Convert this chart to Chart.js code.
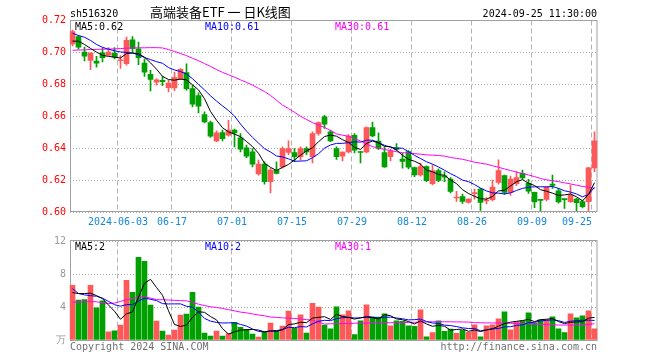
<!DOCTYPE html>
<html><head><meta charset="utf-8">
<script src="https://cdn.jsdelivr.net/npm/chart.js@4/dist/chart.umd.min.js"></script>
<style>
html,body{margin:0;padding:0;background:#fff;overflow:hidden}
#wrap{position:relative;width:660px;height:360px;background:#fff}
canvas{position:absolute;left:0}
#c1{top:0}
#c2{top:232px}
</style></head><body>
<div id="wrap">
<canvas id="c1" width="660" height="232" style="width:660px;height:232px"></canvas>
<canvas id="c2" width="660" height="128" style="width:660px;height:128px"></canvas>
</div>
<script>
const dates = ['2024-05-22','2024-05-23','2024-05-24','2024-05-27','2024-05-28','2024-05-29','2024-05-30','2024-05-31',
'2024-06-03','2024-06-04','2024-06-05','2024-06-06','2024-06-07','2024-06-11','2024-06-12','2024-06-13','2024-06-14',
'2024-06-17','2024-06-18','2024-06-19','2024-06-20','2024-06-21','2024-06-24','2024-06-25','2024-06-26','2024-06-27','2024-06-28',
'2024-07-01','2024-07-02','2024-07-03','2024-07-04','2024-07-05','2024-07-08','2024-07-09','2024-07-10','2024-07-11','2024-07-12',
'2024-07-15','2024-07-16','2024-07-17','2024-07-18','2024-07-19','2024-07-22','2024-07-23','2024-07-24','2024-07-25','2024-07-26',
'2024-07-29','2024-07-30','2024-07-31','2024-08-01','2024-08-02','2024-08-05','2024-08-06','2024-08-07','2024-08-08','2024-08-09',
'2024-08-12','2024-08-13','2024-08-14','2024-08-15','2024-08-16','2024-08-19','2024-08-20','2024-08-21','2024-08-22','2024-08-23',
'2024-08-26','2024-08-27','2024-08-28','2024-08-29','2024-08-30','2024-09-02','2024-09-03','2024-09-04','2024-09-05','2024-09-06',
'2024-09-09','2024-09-10','2024-09-11','2024-09-12','2024-09-13','2024-09-18','2024-09-19','2024-09-20','2024-09-23','2024-09-24','2024-09-25'];

const tickDates = ['2024-06-03','2024-06-17','2024-07-01','2024-07-15','2024-07-29','2024-08-12','2024-08-26','2024-09-09','2024-09-25'];
const tickTexts = ['2024-06-03','06-17','07-01','07-15','07-29','08-12','08-26','09-09','09-25'];

const open = [.7054,.7100,.7002,.6950,.6946,.6998,.6983,.6994,.6948,.6929,
.7079,.7023,.6933,.6863,.6813,.6825,.6779,.6777,.6835,.6873,
.6773,.6729,.6610,.6560,.6446,.6498,.6481,.6513,.6465,.6402,
.6377,.6238,.6300,.6190,.6263,.6283,.6373,.6373,.6346,.6398,
.6346,.6492,.6596,.6502,.6398,.6350,.6377,.6481,.6377,.6377,
.6529,.6444,.6373,.6346,.6402,.6331,.6379,.6279,.6233,.6285,
.6177,.6260,.6227,.6206,.6088,.6097,.6060,.6115,.6144,.6069,
.6077,.6185,.6229,.6123,.6177,.6242,.6179,.6123,.6077,.6079,
.6175,.6133,.6081,.6065,.6081,.6065,.6065,.6277];
const high = [.7140,.7106,.7033,.6998,.6975,.7029,.7030,.7030,.6980,.7096,
.7100,.7065,.6960,.6888,.6835,.6850,.6825,.6877,.6898,.6929,
.6794,.6746,.6627,.6570,.6508,.6513,.6575,.6520,.6492,.6419,
.6398,.6325,.6315,.6273,.6315,.6408,.6446,.6398,.6408,.6408,
.6502,.6565,.6606,.6513,.6408,.6377,.6485,.6492,.6380,.6533,
.6563,.6496,.6408,.6392,.6429,.6367,.6385,.6282,.6306,.6290,
.6296,.6270,.6252,.6215,.6129,.6113,.6083,.6144,.6148,.6090,
.6200,.6327,.6231,.6225,.6254,.6263,.6204,.6125,.6079,.6158,
.6231,.6148,.6083,.6169,.6085,.6075,.6280,.6502];
const low = [.7040,.7020,.6946,.6892,.6908,.6940,.6980,.6960,.6900,.6920,
.7000,.6923,.6850,.6758,.6794,.6792,.6752,.6760,.6830,.6763,
.6658,.6621,.6558,.6467,.6440,.6446,.6475,.6408,.6377,.6340,
.6283,.6231,.6175,.6120,.6238,.6275,.6360,.6315,.6325,.6360,
.6308,.6481,.6523,.6440,.6330,.6320,.6370,.6370,.6308,.6370,
.6470,.6390,.6280,.6320,.6385,.6275,.6270,.6222,.6225,.6190,
.6170,.6190,.6190,.6120,.6066,.6054,.6055,.6081,.6010,.6050,
.6070,.6175,.6110,.6104,.6165,.6205,.6117,.6027,.6008,.6070,
.6148,.6055,.6023,.6060,.6008,.6025,.6008,.6252];
const close = [.7131,.7033,.6977,.6996,.6933,.6967,.7002,.6971,.6952,.7075,
.7023,.6967,.6877,.6831,.6829,.6817,.6808,.6842,.6894,.6773,
.6675,.6663,.6565,.6475,.6496,.6460,.6513,.6496,.6394,.6350,
.6300,.6300,.6190,.6263,.6242,.6398,.6398,.6346,.6398,.6377,
.6492,.6560,.6550,.6446,.6346,.6375,.6475,.6388,.6373,.6529,
.6477,.6398,.6283,.6383,.6392,.6317,.6281,.6233,.6285,.6196,
.6260,.6198,.6219,.6129,.6094,.6066,.6081,.6121,.6060,.6075,
.6156,.6260,.6123,.6206,.6216,.6213,.6131,.6063,.6073,.6154,
.6167,.6063,.6078,.6106,.6058,.6033,.6277,.6446];

const ma5 = [.7071,.7070,.7050,.7025,.7002,.6982,.6975,.6970,.6965,.6993,
.6996,.6992,.6970,.6935,.6895,.6850,.6830,.6826,.6833,.6828,
.6797,.6765,.6710,.6630,.6575,.6528,.6502,.6488,.6472,.6442,
.6410,.6368,.6305,.6280,.6260,.6280,.6298,.6326,.6356,.6383,
.6403,.6440,.6473,.6482,.6475,.6453,.6436,.6405,.6392,.6430,
.6445,.6433,.6412,.6410,.6388,.6355,.6330,.6318,.6300,.6262,
.6252,.6235,.6230,.6200,.6178,.6140,.6116,.6098,.6084,.6080,
.6098,.6132,.6136,.6163,.6190,.6203,.6180,.6166,.6140,.6130,
.6118,.6104,.6107,.6113,.6095,.6070,.6110,.6184];
const ma10 = [.7120,.7106,.7095,.7075,.7050,.7032,.7020,.7010,.7003,.7000,
.6996,.6985,.6968,.6955,.6942,.6932,.6905,.6890,.6880,.6865,
.6835,.6800,.6765,.6728,.6695,.6665,.6636,.6601,.6551,.6507,
.6468,.6432,.6397,.6376,.6351,.6345,.6333,.6318,.6319,.6321,
.6340,.6365,.6400,.6420,.6430,.6430,.6435,.6440,.6438,.6450,
.6450,.6435,.6418,.6405,.6400,.6400,.6378,.6355,.6335,.6315,
.6300,.6282,.6262,.6240,.6222,.6200,.6190,.6172,.6150,.6132,
.6120,.6118,.6113,.6120,.6135,.6148,.6155,.6158,.6158,.6158,
.6160,.6148,.6133,.6125,.6113,.6095,.6110,.6155];
const ma30 = [.7013,.7015,.7016,.7018,.7019,.7020,.7021,.7022,.7024,.7027,
.7028,.7029,.7029,.7030,.7030,.7028,.7018,.7006,.6993,.6980,
.6963,.6948,.6930,.6912,.6893,.6875,.6860,.6845,.6828,.6812,
.6795,.6775,.6755,.6730,.6700,.6670,.6648,.6625,.6600,.6580,
.6560,.6545,.6530,.6510,.6490,.6481,.6475,.6460,.6445,.6425,
.6410,.6400,.6392,.6385,.6378,.6372,.6369,.6366,.6362,.6358,
.6356,.6354,.6350,.6342,.6336,.6330,.6322,.6312,.6306,.6300,
.6290,.6280,.6270,.6260,.6250,.6242,.6232,.6222,.6210,.6202,
.6196,.6190,.6183,.6176,.6168,.6160,.6155,.6148];

const volume = [6.67,4.85,4.93,6.67,3.92,4.77,1.01,1.13,1.82,7.27,
5.82,10.06,9.58,4.24,2.30,1.09,0.61,1.21,3.03,3.15,
5.82,4.00,0.85,0.48,1.09,0.48,0.77,2.14,1.54,1.29,
0.73,0.36,1.01,2.06,1.13,1.70,3.52,1.41,3.07,0.85,
4.48,4.00,1.82,1.37,4.04,3.07,3.56,0.65,2.34,4.28,
2.79,2.79,3.19,1.74,2.34,2.26,1.74,1.66,3.68,0.40,
0.89,2.34,1.05,1.33,0.81,1.17,0.93,1.86,0.40,1.74,
1.86,2.59,3.43,1.25,2.22,2.34,3.31,2.06,2.46,2.46,
2.83,1.37,0.89,3.19,2.71,2.95,3.56,1.37];
const vma5 = [5.78,5.66,5.66,5.70,5.41,5.03,4.26,3.50,2.53,3.20,
3.41,5.22,6.91,7.39,6.40,5.45,3.56,1.89,1.65,1.82,
2.76,3.44,3.37,2.86,2.45,1.38,0.73,0.99,1.20,1.24,
1.29,1.21,0.99,1.09,1.06,1.25,1.88,1.96,2.17,2.11,
2.67,2.76,2.84,2.50,3.14,2.86,2.77,2.54,2.73,2.78,
2.72,2.57,3.08,2.96,2.57,2.46,2.25,1.95,2.34,1.95,
1.67,1.79,1.67,1.20,1.28,1.34,1.06,1.22,1.03,1.22,
1.36,1.69,2.00,2.17,2.27,2.37,2.51,2.24,2.48,2.53,
2.62,2.24,2.00,2.15,2.20,2.22,2.66,2.76];
const vma10 = [6.26,5.66,5.50,5.40,5.33,5.10,4.70,4.30,4.12,4.31,
4.30,4.74,5.10,4.96,4.80,4.43,4.39,4.40,4.40,4.11,
4.00,3.40,2.63,2.30,2.14,2.07,2.09,2.10,1.90,1.70,
1.34,1.05,0.99,1.12,1.15,1.27,1.55,1.50,1.63,1.59,
1.96,2.28,2.40,2.36,2.60,2.72,2.74,2.69,2.66,2.88,
2.79,2.67,2.77,2.78,2.68,2.59,2.45,2.48,2.55,2.26,
2.07,2.00,1.81,1.75,1.64,1.48,1.40,1.42,1.12,1.25,
1.35,1.40,1.60,1.62,1.78,1.85,2.10,2.15,2.32,2.40,
2.45,2.36,2.14,2.28,2.37,2.40,2.42,2.38];
const vma30 = [4.60,4.62,4.65,4.69,4.65,4.55,4.44,4.50,4.70,4.90,
5.05,5.20,5.25,5.10,4.93,4.90,4.87,4.83,4.80,4.77,
4.60,4.36,4.20,4.05,3.96,3.85,3.70,3.55,3.40,3.31,
3.18,3.05,2.95,2.80,2.75,2.70,2.65,2.63,2.55,2.48,
2.42,2.20,1.94,1.98,1.98,2.00,2.02,2.04,2.06,2.07,
2.08,2.09,2.10,2.11,2.12,2.13,2.14,2.16,2.18,2.20,
2.22,2.22,2.22,2.22,2.20,2.20,2.18,2.12,2.10,2.09,
2.08,2.07,2.06,2.04,2.02,1.99,1.97,1.95,1.92,1.88,
1.84,1.82,1.82,1.82,1.82,1.82,1.88,1.98];

const priceMin = 0.60, priceMax = 0.72, priceStep = 0.02;
const volMax = 12, volStep = 4;
const headerCode = 'sh516320';
const headerTitle = '高端装备ETF 一 日K线图';
const headerTime = '2024-09-25 11:30:00';
const priceLegend = ['MA5:0.62','MA10:0.61','MA30:0.61'];
const volLegend = ['MA5:2','MA10:2','MA30:1'];
const footLeft = 'Copyright 2024 SINA.COM';
const footRight = 'http://finance.sina.com.cn';

const MONO = '"DejaVu Sans Mono", monospace';
const UP = 'rgb(255,88,88)', DOWN = 'rgb(0,160,0)';
const LINE_COLORS = ['#000000','#0000ff','#ff00ff'];
const FRAME = '#a0a0a0';
Chart.defaults.font.family = MONO;
Chart.defaults.font.size = 10;

const candleColors = close.map((c, i) => c >= open[i] ? UP : DOWN);
const tickIndex = tickDates.map(d => dates.indexOf(d));
const tickSet = new Set(tickIndex);
const xGridColor = ctx => tickSet.has(ctx.index) ? '#b4b4b4' : 'rgba(0,0,0,0)';

function maLine(label, data, color) {
  return {type:'line', label, data, borderColor:color, borderWidth:1, pointRadius:0, tension:0, fill:false, order:0};
}

const framePlugin = (offTop, offBottom) => ({
  id:'frame',
  beforeDatasetsDraw(chart) {
    const a = chart.chartArea, c = chart.ctx;
    c.save();
    c.strokeStyle = FRAME; c.lineWidth = 1; c.setLineDash([]);
    const l = Math.round(a.left) + 0.5, r = Math.floor(a.right) - 0.5 + 0.5;
    const t = Math.floor(a.top + offTop) + 0.5, b = Math.floor(a.bottom + offBottom) + 0.5;
    c.strokeRect(l, t, r - l, b - t);
    c.restore();
  }
});

const textPlugin1 = {
  id:'text1',
  afterDraw(chart) {
    const c = chart.ctx, a = chart.chartArea;
    c.save();
    c.textBaseline = 'alphabetic';
    c.font = '10px ' + MONO; c.fillStyle = '#000'; c.textAlign = 'left';
    c.fillText(headerCode, 70, 17);
    c.font = '13px "Noto Sans CJK SC", sans-serif';
    c.fillText(headerTitle, 150, 17);
    c.font = '10px ' + MONO; c.textAlign = 'right';
    c.fillText(headerTime, 597, 17);
    c.textAlign = 'left';
    const xs = [75, 205, 335];
    priceLegend.forEach((t, k) => { c.fillStyle = LINE_COLORS[k]; c.fillText(t, xs[k], 30); });
    c.restore();
  }
};
const textPlugin2 = {
  id:'text2',
  afterDraw(chart) {
    const c = chart.ctx;
    c.save();
    c.textBaseline = 'alphabetic';
    c.font = '10px ' + MONO; c.textAlign = 'left';
    const xs = [75, 205, 335];
    volLegend.forEach((t, k) => { c.fillStyle = LINE_COLORS[k]; c.fillText(t, xs[k], 18); });
    c.fillStyle = '#707070';
    c.fillText(footLeft, 70, 118);
    c.textAlign = 'right';
    c.fillText(footRight, 597, 118);
    c.restore();
  }
};

new Chart(document.getElementById('c1'), {
  type:'bar',
  data:{
    labels: dates,
    datasets:[
      maLine('MA5', ma5, LINE_COLORS[0]),
      maLine('MA10', ma10, LINE_COLORS[1]),
      maLine('MA30', ma30, LINE_COLORS[2]),
      {type:'bar', label:'body', data: open.map((o, i) => [o, close[i]]), backgroundColor: candleColors,
       barThickness:5, grouped:false, minBarLength:1, borderWidth:0, order:1},
      {type:'bar', label:'wick', data: low.map((l, i) => [l, high[i]]), backgroundColor: candleColors,
       barThickness:1, grouped:false, borderWidth:0, order:2}
    ]
  },
  options:{
    responsive:false, animation:false, events:[],
    layout:{padding:{left:0, right:62.5, top:20.5, bottom:0}},
    plugins:{legend:{display:false}, tooltip:{enabled:false}},
    scales:{
      x:{
        type:'category', offset:true,
        grid:{offset:true, color:xGridColor, drawTicks:false, lineWidth:1},
        border:{display:false, dash:[5,3]},
        ticks:{autoSkip:false, maxRotation:0, minRotation:0, padding:4, labelOffset:-2.5, color:'#1488d8',
          font:{family:MONO, size:10},
          callback:function(v, i){
            const k = tickIndex.indexOf(i);
            if (k < 0) return '';
            return k === tickTexts.length - 1 ? tickTexts[k] + '     ' : tickTexts[k];
          }},
        afterFit:s => { s.height = 20; }
      },
      y:{
        min:priceMin, max:priceMax, position:'left',
        ticks:{stepSize:priceStep, color:'#ff0000', padding:3.5, font:{family:MONO, size:10},
          callback:v => Number(v).toFixed(2)},
        grid:{color:'#a8a8a8', drawTicks:false, lineWidth:1},
        border:{display:false, dash:[1,2]},
        afterFit:s => { s.width = 69.5; }
      }
    }
  },
  plugins:[framePlugin(0, -0.5), textPlugin1]
});

new Chart(document.getElementById('c2'), {
  type:'bar',
  data:{
    labels: dates,
    datasets:[
      maLine('VMA5', vma5, LINE_COLORS[0]),
      maLine('VMA10', vma10, LINE_COLORS[1]),
      maLine('VMA30', vma30, LINE_COLORS[2]),
      {type:'bar', label:'vol', data: volume, backgroundColor: candleColors, barThickness:5, grouped:false, borderWidth:0, order:1}
    ]
  },
  options:{
    responsive:false, animation:false, events:[],
    layout:{padding:{left:0, right:62.5, top:9, bottom:0}},
    plugins:{legend:{display:false}, tooltip:{enabled:false}},
    scales:{
      x:{
        type:'category', offset:true,
        grid:{offset:true, color:xGridColor, drawTicks:false, lineWidth:1},
        border:{display:false, dash:[5,3]},
        ticks:{display:false, autoSkip:false},
        afterFit:s => { s.height = 20; }
      },
      y:{
        min:0, max:volMax, position:'left',
        ticks:{stepSize:volStep, color:'#999999', padding:3.5, font:{family:MONO, size:10},
          callback:v => v === 0 ? '万' : String(v)},
        grid:{color:'#a8a8a8', drawTicks:false, lineWidth:1},
        border:{display:false, dash:[1,2]},
        afterFit:s => { s.width = 69.5; }
      }
    }
  },
  plugins:[framePlugin(-1, 0.5), textPlugin2]
});
</script>
</body></html>
